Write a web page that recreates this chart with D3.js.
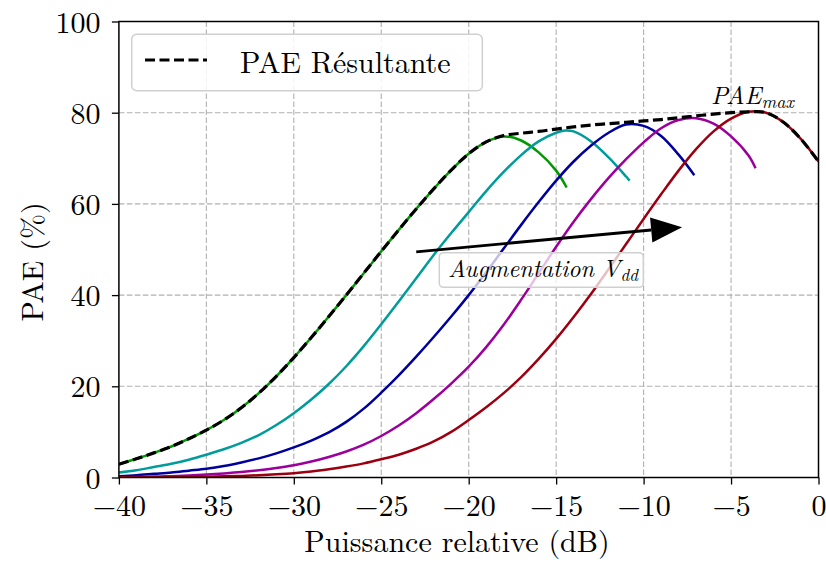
<!DOCTYPE html>
<html>
<head>
<meta charset="utf-8">
<script src="https://cdn.jsdelivr.net/npm/d3@7"></script>
<style>
  body { margin: 0; background: #fff; }
</style>
</head>
<body>
<div class="canvas"></div>
<script>
// ---- data ----
const xTicks = [-40, -35, -30, -25, -20, -15, -10, -5, 0];
const yTicks = [0, 20, 40, 60, 80, 100];

const xGreen = [-40,-39,-38,-37,-36,-35,-34,-33,-32,-31,-30,-29,-28,-27,-26,-25,-24,-23,-22,-21,-20,-19,-18,-17,-16,-15,-14.4];
const paeGreen = [2.9,4.1,5.4,6.8,8.5,10.4,12.6,15.3,18.5,22.2,26.3,30.7,35.3,40.0,44.8,49.6,54.3,58.9,63.3,67.4,71.0,73.6,74.8,73.9,71.3,67.3,63.6];

const xCyan = [-40,-39,-38,-37,-36,-35,-34,-33,-32,-31,-30,-29,-28,-27,-26,-25,-24,-23,-22,-21,-20,-19,-18,-17,-16,-15,-14.5,-14,-13,-12,-11,-10.8];
const paeCyan = [1.1,1.6,2.3,3.0,3.9,5.0,6.2,7.6,9.3,11.5,14.1,17.1,20.5,24.4,28.8,33.6,38.6,43.7,48.8,53.6,58.2,62.8,67.0,70.7,73.7,75.6,76.1,75.9,73.7,70.2,66.0,65.1];

const xBlue = [-40,-39,-38,-37,-36,-35,-34,-33,-32,-31,-30,-29,-28,-27,-26,-25,-24,-23,-22,-21,-20,-19,-18,-17,-16,-15,-14,-13,-12,-11,-10,-9,-8,-7.1];
const paeBlue = [0.3,0.5,0.8,1.1,1.5,1.9,2.5,3.3,4.2,5.3,6.6,8.1,9.9,12.2,15.1,18.6,22.4,26.5,30.8,35.3,40.0,45.0,50.2,55.4,60.4,65.1,69.3,72.8,75.6,77.4,77.1,74.9,70.8,66.3];

const xMagenta = [-40,-39,-38,-37,-36,-35,-34,-33,-32,-31,-30,-29,-28,-27,-26,-25,-24,-23,-22,-21,-20,-19,-18,-17,-16,-15,-14,-13,-12,-11,-10,-9,-8,-7,-6,-5,-4,-3.6];
const paeMagenta = [0.05,0.1,0.2,0.3,0.45,0.65,0.9,1.2,1.6,2.1,2.7,3.5,4.5,5.7,7.2,9.1,11.4,14.1,17.2,20.6,24.3,28.6,33.5,39.0,44.8,50.6,56.1,61.1,65.7,69.8,73.5,76.6,78.4,78.8,77.6,74.8,70.6,67.8];

const xRed = [-40,-39,-38,-37,-36,-35,-34,-33,-32,-31,-30,-29,-28,-27,-26,-25,-24,-23,-22,-21,-20,-19,-18,-17,-16,-15,-14,-13,-12,-11,-10,-9,-8,-7,-6,-5,-4,-3,-2,-1,0];
const paeRed = [0.0,0.02,0.05,0.08,0.12,0.18,0.25,0.35,0.5,0.7,0.95,1.3,1.8,2.4,3.1,4.0,5.0,6.3,7.9,10.0,12.6,15.4,18.5,22.0,26.0,30.4,35.2,40.3,45.7,51.2,56.7,62.1,67.3,72.0,75.9,78.7,80.2,80.0,77.9,74.2,69.3];

// PAE résultante (enveloppe des courbes)
const xEnv = [-40,-39,-38,-37,-36,-35,-34,-33,-32,-31,-30,-29,-28,-27,-26,-25,-24,-23,-22,-21,-20,-19,-18,-17,-16,-15,-14,-13,-12,-11,-10,-9,-8,-7,-6,-5,-4,-3,-2,-1,0];
const paeEnv = [2.9,4.1,5.4,6.8,8.5,10.4,12.6,15.3,18.5,22.2,26.3,30.7,35.3,40.0,44.8,49.6,54.3,58.9,63.3,67.4,71.0,73.6,75.0,75.5,75.9,76.4,76.9,77.3,77.6,77.9,78.2,78.5,78.9,79.3,79.7,80.0,80.2,80.0,77.9,74.2,69.3];

const FONT = '"Latin Modern Roman", "CMU Serif", "Liberation Serif", serif';

const dims = { width: 826, height: 563 };
const margin = { left: 118.9, top: 21.5, right: 826 - 818.5, bottom: 563 - 477.5 };
const w = dims.width - margin.left - margin.right;
const h = dims.height - margin.top - margin.bottom;

const svg = d3.select('.canvas')
    .append('svg')
    .attr('width', dims.width)
    .attr('height', dims.height);

const graph = svg.append('g')
    .attr('transform', `translate(${margin.left},${margin.top})`);

const x = d3.scaleLinear().domain([-40, 0]).range([0, w]);
const y = d3.scaleLinear().domain([0, 100]).range([h, 0]);

// grid
graph.append('g').selectAll('line')
    .data(xTicks.slice(1, -1))
    .enter().append('line')
    .attr('x1', d => x(d)).attr('x2', d => x(d))
    .attr('y1', 0).attr('y2', h)
    .attr('stroke', '#b0b0b0').attr('stroke-width', 1.1)
    .attr('stroke-dasharray', '5.5,2.5');

graph.append('g').selectAll('line')
    .data(yTicks.slice(1, -1))
    .enter().append('line')
    .attr('x1', 0).attr('x2', w)
    .attr('y1', d => y(d)).attr('y2', d => y(d))
    .attr('stroke', '#b0b0b0').attr('stroke-width', 1.1)
    .attr('stroke-dasharray', '5.5,2.5');

// curves
graph.append('clipPath').attr('id', 'clip')
    .append('rect').attr('width', w).attr('height', h);

const line = d3.line()
    .x(d => x(d[0]))
    .y(d => y(d[1]))
    .curve(d3.curveCatmullRom.alpha(0.5));

const zip = (xs, ys) => xs.map((v, i) => [v, ys[i]]);

const series = [
    { pts: zip(xGreen, paeGreen), color: '#009a00' },
    { pts: zip(xCyan, paeCyan), color: '#009c9c' },
    { pts: zip(xBlue, paeBlue), color: '#00009c' },
    { pts: zip(xMagenta, paeMagenta), color: '#9c009c' },
    { pts: zip(xRed, paeRed), color: '#9c0010' }
];

const curves = graph.append('g').attr('clip-path', 'url(#clip)');

curves.selectAll('path.serie')
    .data(series)
    .enter().append('path')
    .attr('class', 'serie')
    .attr('d', d => line(d.pts))
    .attr('fill', 'none')
    .attr('stroke', d => d.color)
    .attr('stroke-width', 2.5);

curves.append('path')
    .attr('d', line(zip(xEnv, paeEnv)))
    .attr('fill', 'none')
    .attr('stroke', '#000')
    .attr('stroke-width', 3.2)
    .attr('stroke-dasharray', '10,4.5');

// annotation box + arrow
const note = graph.append('g');
note.append('rect')
    .attr('x', 439.3 - margin.left).attr('y', 252.7 - margin.top)
    .attr('width', 204).attr('height', 34.6).attr('rx', 4)
    .attr('fill', '#fff').attr('fill-opacity', 0.75)
    .attr('stroke', '#d0d0d0').attr('stroke-width', 1.5);

const noteText = note.append('text')
    .attr('x', 448 - margin.left).attr('y', 277 - margin.top)
    .style('font-family', FONT)
    .style('font-style', 'italic')
    .style('font-size', '24px');
noteText.append('tspan').text('Augmentation V');
noteText.append('tspan').attr('dy', 4).style('font-size', '17px').text('dd');

const arrowFrom = [-23.0, 49.5], arrowTo = [-7.8, 54.9];
const ax0 = x(arrowFrom[0]), ay0 = y(arrowFrom[1]);
const ax1 = x(arrowTo[0]), ay1 = y(arrowTo[1]);
const ang = Math.atan2(ay1 - ay0, ax1 - ax0);
const headL = 31, headW = 12.5;
const bx = ax1 - headL * Math.cos(ang), by = ay1 - headL * Math.sin(ang);
note.append('line')
    .attr('x1', ax0).attr('y1', ay0).attr('x2', bx).attr('y2', by)
    .attr('stroke', '#000').attr('stroke-width', 2.8);
note.append('path')
    .attr('d', `M${ax1},${ay1}L${bx - headW * Math.sin(ang)},${by + headW * Math.cos(ang)}L${bx + headW * Math.sin(ang)},${by - headW * Math.cos(ang)}Z`)
    .attr('fill', '#000');

// PAE max label
const maxText = graph.append('text')
    .attr('x', 711 - margin.left).attr('y', 104 - margin.top)
    .style('font-family', FONT)
    .style('font-style', 'italic')
    .style('font-size', '25px');
maxText.append('tspan').text('PAE');
maxText.append('tspan').attr('dy', 4).style('font-size', '18px').text('max');

// frame
graph.append('rect')
    .attr('width', w).attr('height', h)
    .attr('fill', 'none').attr('stroke', '#000').attr('stroke-width', 1.5);

// axes
const xAxis = d3.axisBottom(x).tickValues(xTicks).tickSize(7).tickPadding(8)
    .tickFormat(d => d < 0 ? '\u2212' + Math.abs(d) : d);
const yAxis = d3.axisLeft(y).tickValues(yTicks).tickSize(7).tickPadding(10);

const gx = graph.append('g').attr('transform', `translate(0,${h})`).call(xAxis);
const gy = graph.append('g').call(yAxis);
[gx, gy].forEach(g => {
    g.select('.domain').remove();
    g.selectAll('line').attr('stroke', '#000').attr('stroke-width', 1.3);
    g.selectAll('text').attr('fill', '#000').style('font-size', '30px').style('font-family', FONT);
});
gx.selectAll('text').attr('dy', null).attr('y', 38.5);
gy.selectAll('text').attr('dy', null).attr('x', -18.5).attr('y', 10.5);

// axis labels
svg.append('text')
    .attr('x', 457).attr('y', 552)
    .attr('text-anchor', 'middle')
    .style('font-family', FONT)
    .style('font-size', '30px')
    .text('Puissance relative (dB)');

svg.append('text')
    .attr('transform', 'translate(43,262) rotate(-90)')
    .attr('text-anchor', 'middle')
    .style('font-family', FONT)
    .style('font-size', '30px')
    .text('PAE (%)');

// legend
const legend = svg.append('g');
legend.append('rect')
    .attr('x', 131.7).attr('y', 34.3).attr('width', 350.6).attr('height', 56.4).attr('rx', 5)
    .attr('fill', '#fff').attr('fill-opacity', 0.85)
    .attr('stroke', '#d0d0d0').attr('stroke-width', 1.5);
legend.append('line')
    .attr('x1', 145).attr('x2', 207).attr('y1', 60).attr('y2', 60)
    .attr('stroke', '#000').attr('stroke-width', 3.2)
    .attr('stroke-dasharray', '10,4.5');
legend.append('text')
    .attr('x', 240).attr('y', 72.5)
    .style('font-family', FONT)
    .style('font-size', '30px')
    .text('PAE Résultante');
</script>
</body>
</html>
